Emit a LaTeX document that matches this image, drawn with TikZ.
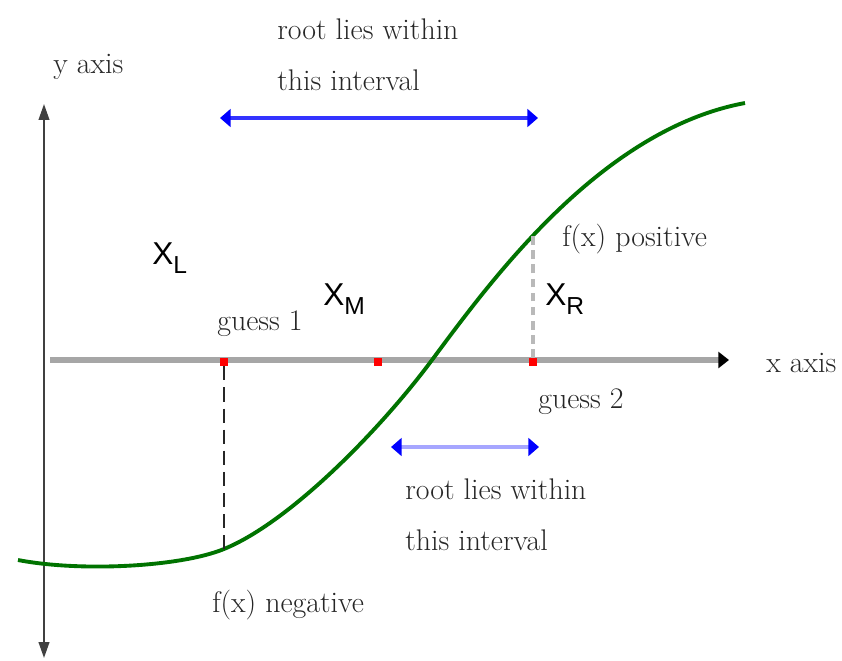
\documentclass[tikz,border=0pt]{standalone}
\usepackage{fontspec}
\newfontfamily\xfont{Liberation Sans}
\usetikzlibrary{arrows.meta}

% X with a subscript, as the picture sets it
\newcommand{\xsub}[1]{{\xfont\fontsize{18}{20}\selectfont X\raisebox{-5.5pt}{\fontsize{14}{16}\selectfont #1}}}

\begin{document}
\begin{tikzpicture}[x=0.02cm,y=-0.02cm,
  lbl/.style={font=\fontsize{17}{29}\selectfont,text=black!85,inner sep=0pt},
  axisline/.style={draw=black!75,line width=1.1pt},
  guesspt/.style={fill=red,inner sep=0pt,minimum size=4.6pt},
  interval/.style={line width=2.8pt,{Triangle[length=6pt,width=10pt,color=blue]}-{Triangle[length=6pt,width=10pt,color=blue]}}]
  \useasboundingbox (0,0) rectangle (842,660);

  % axes
  \coordinate (ytop) at (44,104);
  \coordinate (ybot) at (44,658);
  \coordinate (xstart) at (50,360);
  \coordinate (xend) at (729,360);
  \draw[axisline,{Triangle[length=9pt,width=6pt]}-{Triangle[length=9pt,width=6pt]}] (ybot) -- (ytop);
  \draw[gray!70,line width=3.2pt,-{Triangle[length=6pt,width=9pt,color=black]}] (xstart) -- (xend);
  \node[lbl,anchor=base west] (ylab) at (53,73) {y axis};
  \node[lbl,anchor=base west] (xlab) at (766,372) {x axis};

  % the function
  \coordinate (fL) at (224,549);
  \coordinate (root) at (432,360);
  \coordinate (fR) at (533,236);
  \draw[green!45!black,line width=2.2pt] (18,560) .. controls (80,572) and (180,567) .. (fL)
    .. controls (290,522) and (380,430) .. (root)
    .. controls (490,282) and (600,130) .. (745,103);

  % guesses on the x axis
  \node[guesspt] (pL) at (224,362) {};
  \node[guesspt] (pM) at (378,362) {};
  \node[guesspt] (pR) at (533,362) {};
  \draw[black!85,line width=1.2pt,dash pattern=on 8pt off 4pt] (pL) -- (fL);
  \draw[gray!55,line width=1.8pt,dash pattern=on 5pt off 3pt] (pR) -- (fR);

  \node[lbl,anchor=base west] (g1) at (217,330) {guess 1};
  \node[lbl,anchor=base west] (g2) at (538,408) {guess 2};
  \node[lbl,anchor=base west] (fpos) at (562,246) {f(x) positive};
  \node[lbl,anchor=base west] (fneg) at (212,612) {f(x) negative};

  \node[inner sep=0pt,anchor=base west] (xl) at (152,264) {\xsub{L}};
  \node[inner sep=0pt,anchor=base west] (xm) at (323,305) {\xsub{M}};
  \node[inner sep=0pt,anchor=base west] (xr) at (545,305) {\xsub{R}};

  % intervals
  \coordinate (a1) at (220,118);
  \coordinate (a2) at (538,118);
  \draw[interval,blue!80] (a1) -- (a2);
  \node[lbl,align=left,anchor=north west] (top) at (277,18) {root lies within\\this interval};
  \coordinate (b1) at (391,447);
  \coordinate (b2) at (539,447);
  \draw[interval,blue!35] (b1) -- (b2);
  \node[lbl,align=left,anchor=north west] (bot) at (405,478) {root lies within\\this interval};
\end{tikzpicture}
\end{document}
